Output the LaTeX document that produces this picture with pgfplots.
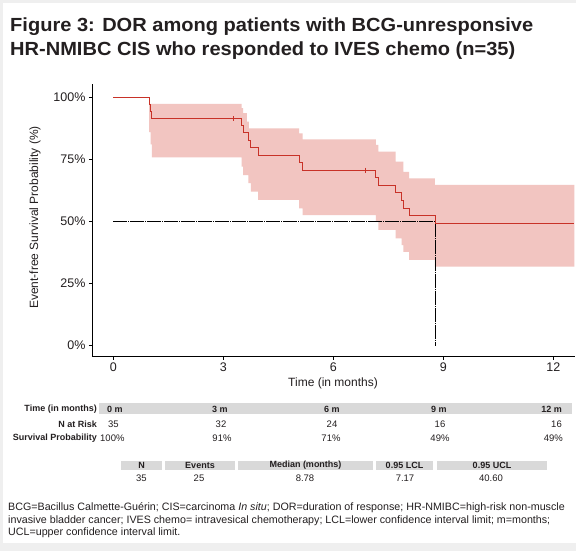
\documentclass[border=0pt]{standalone}
\usepackage{fontspec}
\setmainfont{Liberation Sans}
\newfontfamily\titlefont[FakeStretch=1.055]{Liberation Sans}
\usepackage{pgfplots}
\pgfplotsset{compat=1.18}
\definecolor{bggray}{RGB}{239,239,239}
\definecolor{bandpink}{RGB}{242,197,193}
\definecolor{linered}{RGB}{200,50,40}
\definecolor{tablegray}{RGB}{217,217,217}
\definecolor{txt}{RGB}{35,31,32}
\begin{document}
\begin{tikzpicture}
\fill[bggray] (0pt,0pt) rectangle (576pt,551pt);
\fill[white] (3pt,8.3pt) rectangle (576pt,547.5pt);
\useasboundingbox (0pt,0pt) rectangle (576pt,551pt);
% title
\node[anchor=base west, inner sep=0, text=txt, font=\titlefont\fontsize{19}{20}\selectfont\bfseries] at (10pt,519.5pt) {Figure 3: DOR among patients with BCG-unresponsive};
\node[anchor=base west, inner sep=0, text=txt, font=\titlefont\fontsize{19}{20}\selectfont\bfseries] at (10pt,495pt) {HR-NMIBC CIS who responded to IVES chemo (n=35)};

\begin{axis}[at={(92pt,194.3pt)}, anchor=south west, scale only axis,
  width=483pt, height=272.7pt,
  xmin=-0.581, xmax=12.59, ymin=-0.0443, ymax=1.0535,
  axis x line*=bottom, axis y line*=left,
  axis line style={-, black, line width=0.8pt},
  xtick={0,3,6,9,12}, ytick={0,0.25,0.5,0.75,1},
  yticklabels={0\%,25\%,50\%,75\%,100\%},
  tick align=outside, major tick length=3pt,
  tick style={black, line width=0.6pt},
  ticklabel style={font=\fontsize{12.5}{14}\selectfont, text=txt},
  /pgf/number format/assume math mode=true,
  clip=false]
\addplot[fill=bandpink, draw=none] coordinates {
(0.98,0.973) (3.50,0.973) (3.50,0.956) (3.54,0.956) (3.54,0.936) (3.64,0.936) (3.64,0.902) (3.70,0.902) (3.70,0.875) (5.07,0.875) (5.07,0.855) (5.16,0.855) (5.16,0.831) (7.16,0.831) (7.16,0.808) (7.23,0.808) (7.23,0.781) (7.70,0.781) (7.70,0.741) (7.91,0.741) (7.91,0.700) (8.07,0.700) (8.07,0.674) (8.77,0.674) (8.77,0.647) (12.57,0.647)
(12.57,0.318) (8.77,0.318) (8.77,0.345) (8.07,0.345) (8.07,0.378) (7.91,0.378) (7.91,0.405) (7.86,0.405) (7.86,0.432) (7.70,0.432) (7.70,0.466) (7.23,0.466) (7.23,0.499) (7.16,0.499) (7.16,0.526) (5.16,0.526) (5.16,0.553) (5.07,0.553) (5.07,0.587) (3.95,0.587) (3.95,0.620) (3.75,0.620) (3.75,0.654) (3.68,0.654) (3.68,0.687) (3.54,0.687) (3.54,0.721) (3.50,0.721) (3.50,0.758) (1.05,0.758) (1.05,0.81) (1.02,0.81) (1.02,0.86) (0.98,0.86) (0.98,0.973)};
\addplot[black, line width=0.7pt, dash pattern=on 14pt off 1pt on 1pt off 1pt] coordinates {(0,0.5) (8.78,0.5) (8.78,0)};
\addplot[linered, line width=0.8pt] coordinates {
(0,1.0) (0.98,1.0) (0.98,0.971) (1.02,0.971) (1.02,0.943) (1.05,0.943) (1.05,0.914) (3.50,0.914) (3.50,0.886) (3.54,0.886) (3.54,0.857) (3.68,0.857) (3.68,0.828) (3.75,0.828) (3.75,0.799) (3.95,0.799) (3.95,0.768) (5.07,0.768) (5.07,0.738) (5.16,0.738) (5.16,0.707) (7.16,0.707) (7.16,0.676) (7.23,0.676) (7.23,0.646) (7.70,0.646) (7.70,0.616) (7.86,0.616) (7.86,0.585) (7.91,0.585) (7.91,0.554) (8.07,0.554) (8.07,0.524) (8.77,0.524) (8.77,0.493) (12.57,0.493)};
\addplot[only marks, linered, mark=|, mark size=2.5pt, mark options={line width=0.6pt}] coordinates {(3.27,0.914) (6.88,0.707)};
\end{axis}
% axis labels
\node[text=txt, font=\fontsize{12}{14}\selectfont] at (333pt,168pt) {Time (in months)};
\node[text=txt, font=\fontsize{12}{14}\selectfont, rotate=90] at (35pt,333.5pt) {Event-free Survival Probability (\%)};
% risk table
\fill[tablegray] (99.3pt,136.7pt) rectangle (572pt,147.7pt);
\begin{scope}[every node/.style={text=txt, font=\fontsize{9.5}{10}\selectfont, inner sep=0}]
\node[anchor=east, font=\fontsize{9}{10}\selectfont\bfseries] at (97pt,142pt) {Time (in months)};
\node[anchor=east, font=\fontsize{9}{10}\selectfont\bfseries] at (97pt,127pt) {N at Risk};
\node[anchor=east, font=\fontsize{9}{10}\selectfont\bfseries] at (97pt,112.7pt) {Survival Probability};
\node[anchor=west, font=\fontsize{9}{10}\selectfont\bfseries] at (107pt,142pt) {0 m};
\node[font=\fontsize{9}{10}\selectfont\bfseries] at (220pt,142pt) {3 m};
\node[font=\fontsize{9}{10}\selectfont\bfseries] at (332pt,142pt) {6 m};
\node[font=\fontsize{9}{10}\selectfont\bfseries] at (439pt,142pt) {9 m};
\node[anchor=east, font=\fontsize{9}{10}\selectfont\bfseries] at (562pt,142pt) {12 m};
\node[anchor=west] at (108pt,127pt) {35};
\node at (221pt,127pt) {32};
\node at (332pt,127pt) {24};
\node at (440pt,127pt) {16};
\node[anchor=east] at (562pt,127pt) {16};
\node[anchor=west] at (100pt,112.7pt) {100\%};
\node at (222pt,112.7pt) {91\%};
\node at (331pt,112.7pt) {71\%};
\node at (440pt,112.7pt) {49\%};
\node[anchor=east] at (563pt,112.7pt) {49\%};
% summary table
\fill[tablegray] (121pt,81pt) rectangle (162pt,90.3pt);
\fill[tablegray] (165pt,81pt) rectangle (235pt,90.3pt);
\fill[tablegray] (238pt,81pt) rectangle (373pt,90.3pt);
\fill[tablegray] (376pt,81pt) rectangle (433pt,90.3pt);
\fill[tablegray] (437pt,81pt) rectangle (547pt,90.3pt);
\node[font=\fontsize{9}{10}\selectfont\bfseries] at (141.5pt,85.6pt) {N};
\node[font=\fontsize{9}{10}\selectfont\bfseries] at (200pt,85.6pt) {Events};
\node[font=\fontsize{9}{10}\selectfont\bfseries] at (305.5pt,85.6pt) {Median (months)};
\node[font=\fontsize{9}{10}\selectfont\bfseries] at (404.5pt,85.6pt) {0.95 LCL};
\node[font=\fontsize{9}{10}\selectfont\bfseries] at (492pt,85.6pt) {0.95 UCL};
\node at (141.5pt,73pt) {35};
\node at (199pt,73pt) {25};
\node at (305pt,73pt) {8.78};
\node at (405pt,73pt) {7.17};
\node at (491pt,73pt) {40.60};
\end{scope}
% footnote
\begin{scope}[every node/.style={text=txt, font=\fontsize{10.7}{12}\selectfont, inner sep=0, anchor=base west}]
\node at (8pt,40.3pt) {BCG=Bacillus Calmette-Guérin; CIS=carcinoma \textit{In situ}; DOR=duration of response; HR-NMIBC=high-risk non-muscle};
\node at (8pt,27.5pt) {invasive bladder cancer; IVES chemo= intravesical chemotherapy; LCL=lower confidence interval limit; m=months;};
\node at (8pt,15pt) {UCL=upper confidence interval limit.};
\end{scope}
\end{tikzpicture}
\end{document}
